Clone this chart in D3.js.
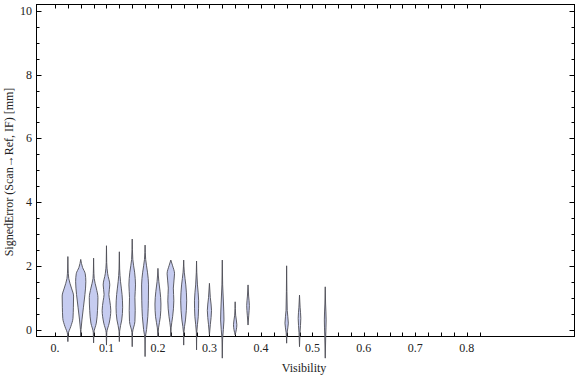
<!DOCTYPE html>
<html>
<head>
<meta charset="utf-8">
<script src="https://cdn.jsdelivr.net/npm/d3@7"></script>
<style>
  body { margin: 0; background: #fff; }
  text { font-family: "Liberation Serif", "Times New Roman", serif; font-size: 12px; fill: #222; }
</style>
</head>
<body>
<div id="chart"></div>
<script>
// violin centres (visibility bins)
const visibility = [0.025, 0.05, 0.075, 0.1, 0.125, 0.15, 0.175, 0.2, 0.225, 0.25,
  0.275, 0.3, 0.325, 0.35, 0.375, 0.45, 0.475, 0.525];

// density profile of each violin: [signed error (mm), relative density]
const profiles = [
  [[-0.38,0],[-0.15,0.05],[0.1,0.5],[0.35,0.85],[0.7,0.92],[1.05,0.95],[1.3,0.6],[1.6,0.15],[1.9,0.04],[2.29,0]],
  [[-0.2,0],[0,0.05],[0.3,0.2],[0.7,0.45],[1.1,0.7],[1.5,0.85],[1.75,0.75],[1.95,0.3],[2.2,0]],
  [[-0.42,0],[-0.1,0.05],[0.2,0.45],[0.6,0.65],[1.0,0.72],[1.3,0.45],[1.6,0.1],[1.9,0.03],[2.24,0]],
  [[-0.49,0],[-0.1,0.05],[0.2,0.45],[0.6,0.72],[0.9,0.55],[1.1,0.4],[1.4,0.55],[1.75,0.2],[2.1,0.04],[2.63,0]],
  [[-0.38,0],[-0.05,0.05],[0.3,0.4],[0.7,0.55],[1.1,0.45],[1.5,0.2],[1.9,0.05],[2.44,0]],
  [[-0.54,0],[-0.1,0.05],[0.25,0.45],[0.6,0.5],[1.0,0.45],[1.4,0.55],[1.8,0.4],[2.2,0.1],[2.84,0]],
  [[-0.85,0],[-0.3,0.03],[0,0.25],[0.4,0.45],[0.9,0.55],[1.4,0.58],[1.8,0.4],[2.2,0.1],[2.65,0]],
  [[-0.23,0],[0.05,0.1],[0.4,0.4],[0.8,0.5],[1.2,0.35],[1.5,0.15],[1.92,0]],
  [[-0.23,0],[0.05,0.05],[0.4,0.3],[0.9,0.5],[1.3,0.42],[1.75,0.62],[2.0,0.3],[2.18,0]],
  [[-0.49,0],[-0.1,0.03],[0.3,0.3],[0.9,0.5],[1.4,0.35],[1.8,0.1],[2.18,0]],
  [[-0.64,0],[-0.1,0.03],[0.4,0.28],[0.9,0.35],[1.4,0.15],[1.8,0.04],[2.15,0]],
  [[-0.17,0],[0.15,0.15],[0.6,0.35],[1.0,0.15],[1.45,0]],
  [[-0.9,0],[-0.3,0.05],[0.3,0.28],[0.8,0.2],[1.4,0.06],[2.18,0]],
  [[-0.17,0],[0.15,0.28],[0.45,0.08],[0.87,0]],
  [[0.14,0],[0.45,0.12],[0.75,0.22],[1.05,0.1],[1.4,0]],
  [[-0.43,0],[-0.1,0.08],[0.2,0.28],[0.6,0.1],[1.2,0.04],[2.0,0]],
  [[-0.54,0],[-0.1,0.08],[0.35,0.22],[0.7,0.1],[1.08,0]],
  [[-0.9,0],[-0.2,0.08],[0.3,0.15],[0.8,0.06],[1.34,0]]
];

const xTickLabels = [0, 0.1, 0.2, 0.3, 0.4, 0.5, 0.6, 0.7, 0.8];
const xMinorTicks = d3.range(0, 0.8251, 0.025);
const yTickLabels = [0, 2, 4, 6, 8, 10];
const yMinorTicks = d3.range(0, 10.01, 0.5);

const W = 576, H = 377;
const frame = { left: 36.5, right: 574.5, top: 4.5, bottom: 336.5 };

const svg = d3.select("#chart")
  .append("svg")
  .attr("width", W)
  .attr("height", H);

const x = d3.scaleLinear().domain([0, 0.8]).range([55, 466.8]);
const y = d3.scaleLinear().domain([0, 10]).range([329.5, 11]);
const w = d3.scaleLinear().domain([0, 1]).range([0, 6]);

// frame
svg.append("rect")
  .attr("x", frame.left)
  .attr("y", frame.top)
  .attr("width", frame.right - frame.left)
  .attr("height", frame.bottom - frame.top)
  .attr("fill", "none")
  .attr("stroke", "#000")
  .attr("stroke-width", 1);

// x ticks, bottom and top
const ticks = svg.append("g").attr("stroke", "#000").attr("stroke-width", 1);
xMinorTicks.forEach(t => {
  const px = Math.round(x(t)) + 0.5;
  ticks.append("line").attr("x1", px).attr("x2", px).attr("y1", frame.bottom).attr("y2", frame.bottom - 4);
  ticks.append("line").attr("x1", px).attr("x2", px).attr("y1", frame.top).attr("y2", frame.top + 4);
});
yMinorTicks.forEach(t => {
  const py = Math.round(y(t)) + 0.5;
  const major = Math.abs(t % 2) < 1e-6;
  const len = major ? 5 : 3;
  ticks.append("line").attr("x1", frame.left).attr("x2", frame.left + len).attr("y1", py).attr("y2", py);
  ticks.append("line").attr("x1", frame.right).attr("x2", frame.right - len).attr("y1", py).attr("y2", py);
});

// tick labels
svg.append("g").selectAll("text")
  .data(xTickLabels)
  .enter()
  .append("text")
  .attr("x", d => x(d))
  .attr("y", 352)
  .attr("text-anchor", "middle")
  .text(d => d === 0 ? "0." : d3.format(".1f")(d));

svg.append("g").selectAll("text")
  .data(yTickLabels)
  .enter()
  .append("text")
  .attr("x", 32)
  .attr("y", d => y(d) + 4)
  .attr("text-anchor", "end")
  .text(d => d);

// axis labels
svg.append("text")
  .attr("x", 304)
  .attr("y", 372)
  .attr("text-anchor", "middle")
  .text("Visibility");

svg.append("text")
  .attr("transform", "translate(13,172) rotate(-90)")
  .attr("text-anchor", "middle")
  .text("SignedError (Scan\u2192Ref, IF) [mm]");

// violins
const area = d3.area()
  .y(d => y(d[0]))
  .x0(d => -w(d[1]))
  .x1(d => w(d[1]))
  .curve(d3.curveMonotoneY);

svg.append("g").selectAll("path")
  .data(profiles)
  .enter()
  .append("path")
  .attr("transform", (d, i) => `translate(${x(visibility[i])},0)`)
  .attr("d", area)
  .attr("fill", "#c6ccf0")
  .attr("stroke", "#4d4d55")
  .attr("stroke-width", 0.9);
</script>
</body>
</html>
